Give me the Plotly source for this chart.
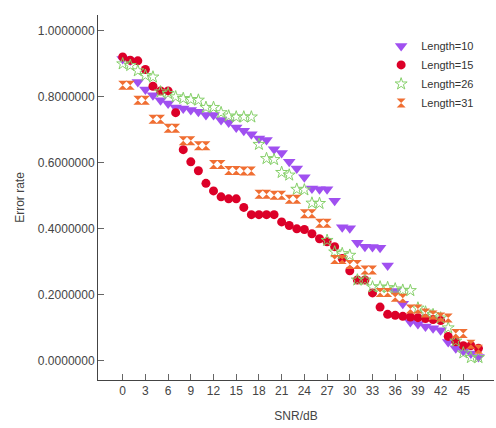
import plotly.graph_objects as go

snr = list(range(48))

len10 = [0.915, 0.910, 0.845, 0.822, 0.805, 0.790, 0.780, 0.768, 0.765, 0.760,
         0.755, 0.745, 0.745, 0.730, 0.722, 0.707, 0.697, 0.687, 0.674, 0.669,
         0.641, 0.630, 0.603, 0.583, 0.556, 0.522, 0.520, 0.520, 0.485, 0.405,
         0.402, 0.358, 0.346, 0.345, 0.343, 0.289, 0.212, 0.173, 0.118, 0.112,
         0.104, 0.099, 0.093, 0.057, 0.038, 0.030, 0.022, 0.012]

len15 = [0.921, 0.911, 0.909, 0.883, 0.832, 0.818, 0.818, 0.752, 0.640, 0.603,
         0.576, 0.538, 0.515, 0.497, 0.491, 0.491, 0.465, 0.443, 0.443, 0.443,
         0.443, 0.421, 0.410, 0.400, 0.398, 0.385, 0.370, 0.361, 0.346, 0.310,
         0.273, 0.245, 0.245, 0.206, 0.163, 0.141, 0.138, 0.135, 0.133, 0.131,
         0.128, 0.125, 0.122, 0.074, 0.058, 0.046, 0.046, 0.038]

len26 = [0.900, 0.895, 0.879, 0.865, 0.860, 0.815, 0.810, 0.800, 0.795, 0.792,
         0.790, 0.768, 0.768, 0.752, 0.742, 0.739, 0.739, 0.739, 0.656, 0.613,
         0.610, 0.571, 0.563, 0.520, 0.518, 0.478, 0.477, 0.365, 0.330, 0.325,
         0.320, 0.245, 0.245, 0.224, 0.224, 0.222, 0.218, 0.214, 0.213, 0.160,
         0.148, 0.140, 0.130, 0.100, 0.060, 0.024, 0.010, 0.010]

len31 = [0.835, 0.835, 0.790, 0.790, 0.732, 0.732, 0.705, 0.705, 0.667, 0.667,
         0.652, 0.652, 0.595, 0.595, 0.577, 0.577, 0.575, 0.575, 0.505, 0.505,
         0.502, 0.502, 0.490, 0.490, 0.446, 0.446, 0.417, 0.417, 0.307, 0.307,
         0.292, 0.292, 0.275, 0.275, 0.207, 0.207, 0.193, 0.190, 0.157, 0.157,
         0.145, 0.139, 0.133, 0.130, 0.083, 0.083, 0.050, 0.035]

x_ticks = list(range(0, 46, 3))
y_ticks = [0.0, 0.2, 0.4, 0.6, 0.8, 1.0]

series = [
    ("Length=10", len10, dict(symbol="triangle-down", size=11, color="#a050f0")),
    ("Length=15", len15, dict(symbol="circle", size=9, color="#dc0028")),
    ("Length=26", len26, dict(symbol="star-open", size=9, color="#86d06a",
                              line=dict(width=1, color="#86d06a"))),
    ("Length=31", len31, dict(symbol="hourglass", size=9, color="#f06e32")),
]

fig = go.Figure()
for name, vals, mk in series:
    fig.add_trace(go.Scatter(x=snr, y=vals, mode="markers", name=name, marker=mk))

axis_font = dict(family="Arial, Liberation Sans, sans-serif", size=12, color="#444")

fig.update_layout(
    width=496, height=428,
    margin=dict(l=98, r=2, t=15, b=48),
    paper_bgcolor="white", plot_bgcolor="white",
    font=dict(family="Arial, Liberation Sans, sans-serif", size=12, color="#444"),
    showlegend=True,
    legend=dict(x=0.715, y=0.955, xanchor="left", yanchor="top",
                font=dict(size=11, color="#333"), bgcolor="rgba(0,0,0,0)",
                itemwidth=30, tracegroupgap=0),
    xaxis=dict(range=[-3.26, 49.05], tickvals=x_ticks, ticks="inside", ticklen=6,
               tickcolor="#666", showline=True, linecolor="#444", linewidth=1,
               showgrid=False, zeroline=False, tickfont=axis_font,
               title=dict(text="SNR/dB", font=axis_font, standoff=14)),
    yaxis=dict(range=[-0.058, 1.048], tickvals=y_ticks, tickformat=".7f",
               ticks="inside", ticklen=6, tickcolor="#666", showline=True,
               linecolor="#444", linewidth=1, showgrid=False, zeroline=False,
               tickfont=axis_font,
               title=dict(text="Error rate", font=axis_font, standoff=10)),
)

fig.write_html("out.html")
